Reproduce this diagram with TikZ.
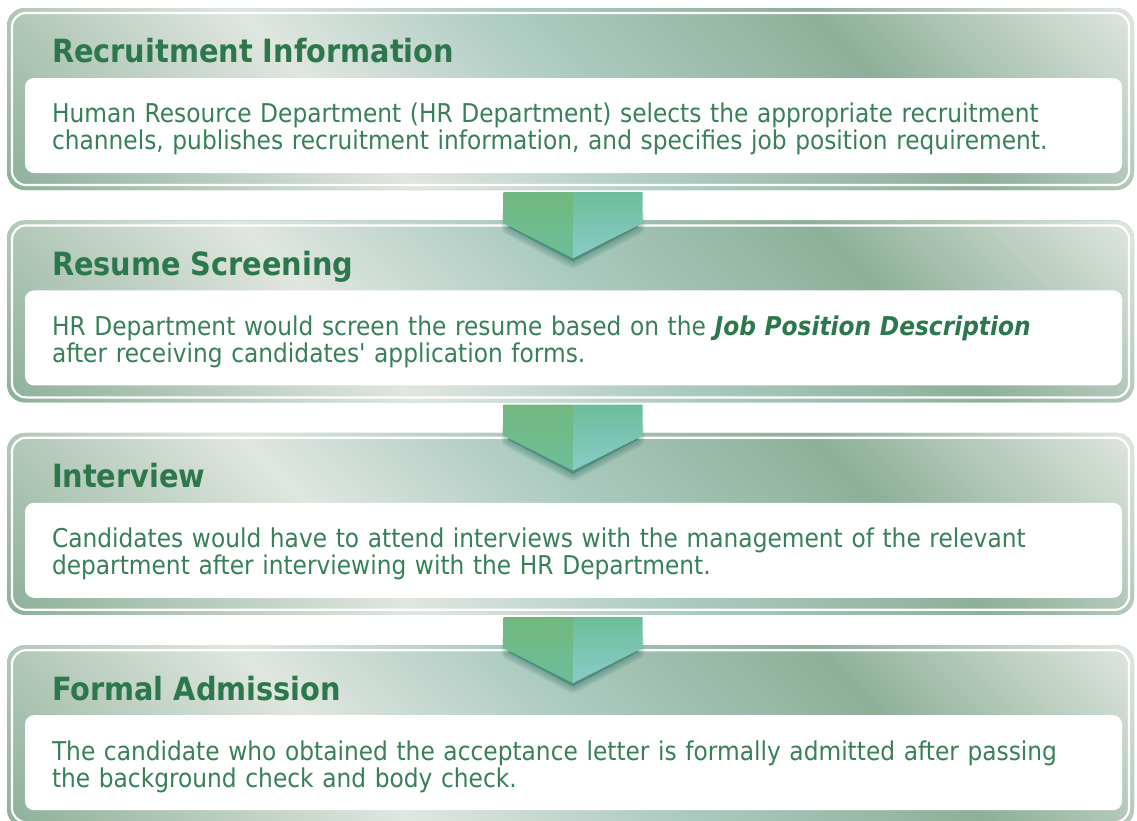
\documentclass[tikz,border=0pt]{standalone}
\usepackage{fontspec}
\setmainfont{DejaVu Sans}[FakeStretch=0.9, Ligatures=TeXOff]
\usepackage{xcolor}
\definecolor{stepdark}{RGB}{141,176,153}
\definecolor{steplight}{RGB}{224,230,224}
\definecolor{stepteal}{RGB}{172,203,193}
\definecolor{steptitle}{RGB}{44,120,76}
\definecolor{steptext}{RGB}{55,128,88}
\definecolor{arrowgreentop}{RGB}{114,184,126}
\definecolor{arrowgreen}{RGB}{92,178,124}
\definecolor{arrowteal}{RGB}{108,190,154}
\definecolor{arrowcyan}{RGB}{138,203,200}
\definecolor{arrowshade}{RGB}{40,110,95}
\usepackage{tikz}
\usetikzlibrary{calc,positioning}

% diagonal bands behind every stage
\pgfdeclarehorizontalshading{panelband}{100bp}{
  color(0bp)=(stepdark); color(30.7bp)=(stepdark); color(42.75bp)=(steplight);
  color(50.7bp)=(stepteal); color(59.75bp)=(stepdark); color(69.3bp)=(steplight);
  color(100bp)=(steplight)}

\tikzset{
  step panel/.style={rounded corners=18, fill=stepdark, minimum width=1127, minimum height=182, inner sep=0,
    path picture={
      \shade[shading=panelband, shading angle=45] ([shift={(-600,-600)}]path picture bounding box.center) rectangle ++(1200,1200);
      \draw[white, line width=2.2, rounded corners=14] ([shift={(5,5)}]path picture bounding box.south west) rectangle ([shift={(-5,-5)}]path picture bounding box.north east);
    }},
  step title/.style={anchor=base west, inner sep=0, font=\fontsize{32}{36}\selectfont\bfseries, text=steptitle},
  step box/.style={anchor=north west, fill=white, rounded corners=9, minimum width=1097, minimum height=95,
    text width=1043, inner xsep=27, inner ysep=0, align=left, font=\fontsize{25.9}{27}\selectfont, text=steptext,
    execute at begin node=\rule{0pt}{27pt}},
  arrow shadow/.style={fill=arrowshade, draw=arrowshade, line join=round, opacity=0.13},
  arrow left/.style={top color=arrowgreentop, middle color=arrowgreen, bottom color=arrowteal},
  arrow right/.style={top color=arrowteal, bottom color=arrowcyan},
}

\begin{document}
\begin{tikzpicture}[x=1pt, y=1pt]
  \clip (0,0) rectangle (1137,-820);

  % the four stages
  \node[step panel] (recruit) at (570.5,-99) {};
  \node[step panel, below=30 of recruit] (screen) {};
  \node[step panel, below=30 of screen] (interview) {};
  \node[step panel, below=30 of interview] (admit) {};

  \node[step title] (recruit title) at ([shift={(45,-55)}]recruit.north west) {Recruitment Information};
  \node[step box] (recruit text) at ([shift={(18,-70)}]recruit.north west) {Human Resource Department (HR Department) selects the appropriate recruitment\\channels, publishes recruitment information, and specifies job position requirement.};

  \node[step title] (screen title) at ([shift={(45,-55)}]screen.north west) {Resume Screening};
  \node[step box] (screen text) at ([shift={(18,-70)}]screen.north west) {HR Department would screen the resume based on the \textcolor{steptitle}{\bfseries\itshape Job Position Description}\\after receiving candidates' application forms.};

  \node[step title] (interview title) at ([shift={(45,-55)}]interview.north west) {Interview};
  \node[step box] (interview text) at ([shift={(18,-70)}]interview.north west) {Candidates would have to attend interviews with the management of the relevant\\department after interviewing with the HR Department.};

  \node[step title] (admit title) at ([shift={(45,-55)}]admit.north west) {Formal Admission};
  \node[step box] (admit text) at ([shift={(18,-70)}]admit.north west) {The candidate who obtained the acceptance letter is formally admitted after passing\\the background check and body check.};

  % down arrows between the stages, soft shadow first
  \foreach \from/\to in {recruit/screen, screen/interview, interview/admit} {
    \foreach \w in {14,10,6,2}
      \filldraw[arrow shadow, line width=\w] ($(\to.north)+(-62,4)$) -- ($(\to.north)+(-62,-7)$) -- ($(\to.north)+(2.5,-41)$) -- ($(\to.north)+(67,-7)$) -- ($(\to.north)+(67,4)$) -- cycle;
    \shade[arrow left] ($(\from.south)+(-67,-2)$) -- ($(\from.south)+(2.5,-2)$) -- ($(\to.north)+(2.5,-38)$) -- ($(\to.north)+(-67,-3)$) -- cycle;
    \shade[arrow right] ($(\from.south)+(2.5,-2)$) -- ($(\from.south)+(72,-2)$) -- ($(\to.north)+(72,-3)$) -- ($(\to.north)+(2.5,-38)$) -- cycle;
  }
\end{tikzpicture}
\end{document}
